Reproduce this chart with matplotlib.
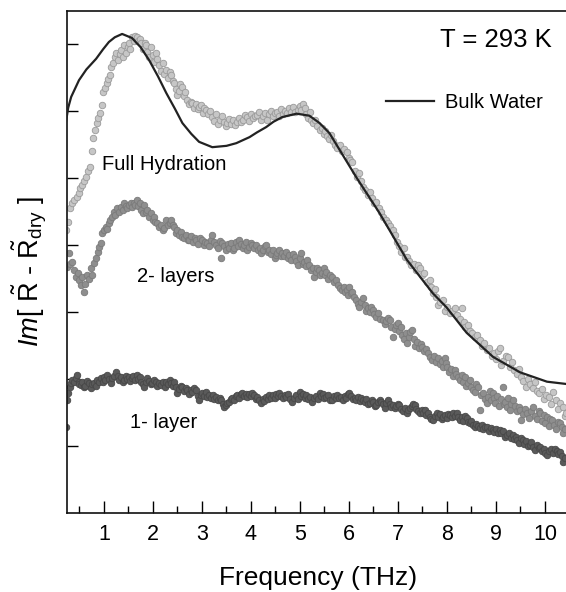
import matplotlib
matplotlib.use("Agg")
import matplotlib.pyplot as plt
import numpy as np

plt.rcParams['font.family'] = ['Liberation Sans', 'DejaVu Sans']
plt.rcParams['mathtext.fontset'] = 'custom'
plt.rcParams['mathtext.rm'] = 'Liberation Sans'
plt.rcParams['mathtext.it'] = 'Liberation Sans:italic'

# ---------------- data ----------------
bulk_freq = [0.22, 0.27, 0.33, 0.49, 0.64, 0.84, 0.98, 1.10, 1.22, 1.37, 1.57, 1.75, 1.92, 2.10,
             2.27, 2.45, 2.60, 2.78, 2.94, 3.21, 3.50, 3.70, 3.97, 4.12, 4.31, 4.46, 4.64, 4.93,
             5.19, 5.40, 5.60, 5.85, 6.15, 6.62, 7.18, 7.71, 7.99, 8.40, 8.94,
             9.49, 10.04, 10.50]
bulk_val = [5.82, 6.05, 6.21, 6.46, 6.62, 6.78, 6.92, 7.03, 7.10, 7.15, 7.09, 6.95, 6.76, 6.52,
            6.27, 6.03, 5.82, 5.66, 5.54, 5.46, 5.48, 5.52, 5.61, 5.68, 5.76, 5.84, 5.91, 5.96,
            5.93, 5.82, 5.67, 5.37, 5.01, 4.48, 3.78, 3.28, 3.07, 2.69, 2.33,
            2.10, 1.96, 1.92]

fh_freq = [0.22, 0.26, 0.31, 0.35, 0.39, 0.44, 0.49, 0.52, 0.55, 0.60, 0.64, 0.68, 0.71, 0.75,
           0.77, 0.81, 0.85, 0.88, 0.92, 0.96, 0.98, 1.02, 1.06, 1.09, 1.12, 1.15, 1.18, 1.22,
           1.25, 1.29, 1.32, 1.35, 1.38, 1.41, 1.45, 1.48, 1.51, 1.54, 1.57, 1.61, 1.64, 1.67,
           1.70, 1.73, 1.76, 1.80, 1.83, 1.86, 1.88, 1.92, 1.96, 2.00, 2.03, 2.06, 2.09, 2.12,
           2.16, 2.20, 2.23, 2.27, 2.30, 2.34, 2.37, 2.40, 2.43, 2.46, 2.49, 2.53, 2.56, 2.59,
           2.63, 2.66, 2.70, 2.73, 2.77, 2.80, 2.84, 2.88, 2.91, 2.94, 2.98, 3.02, 3.05, 3.09,
           3.13, 3.17, 3.21, 3.25, 3.29, 3.33, 3.37, 3.41, 3.45, 3.49, 3.52, 3.56, 3.60, 3.64,
           3.68, 3.72, 3.76, 3.80, 3.84, 3.88, 3.92, 3.96, 4.00, 4.04, 4.08, 4.13, 4.17, 4.21,
           4.25, 4.29, 4.33, 4.37, 4.41, 4.45, 4.50, 4.54, 4.58, 4.62, 4.66, 4.70, 4.74, 4.78,
           4.82, 4.86, 4.90, 4.95, 4.99, 5.03, 5.07, 5.10, 5.13, 5.17, 5.20, 5.23, 5.27, 5.31,
           5.35, 5.40, 5.44, 5.48, 5.52, 5.56, 5.60, 5.64, 5.68, 5.72, 5.76, 5.81, 5.85, 5.90,
           5.95, 5.99, 6.03, 6.07, 6.12, 6.17, 6.20, 6.24, 6.28, 6.33, 6.38, 6.42, 6.47, 6.52,
           6.56, 6.61, 6.66, 6.70, 6.75, 6.79, 6.84, 6.89, 6.94, 6.98, 7.03, 7.07, 7.12, 7.15,
           7.19, 7.23, 7.27, 7.33, 7.36, 7.40, 7.45, 7.50, 7.54, 7.59, 7.65, 7.68, 7.71, 7.75,
           7.78, 7.81, 7.86, 7.91, 7.96, 8.01, 8.06, 8.11, 8.16, 8.21, 8.26, 8.30, 8.34, 8.36,
           8.42, 8.47, 8.52, 8.57, 8.62, 8.67, 8.72, 8.76, 8.81, 8.86, 8.91, 8.95, 9.00, 9.04,
           9.08, 9.10, 9.15, 9.20, 9.24, 9.28, 9.33, 9.37, 9.42, 9.47, 9.51, 9.56, 9.61, 9.65,
           9.70, 9.75, 9.80, 9.84, 9.88, 9.93, 9.98, 10.03, 10.08, 10.12, 10.17, 10.22, 10.27,
           10.31, 10.36, 10.40, 10.43]
fh_val = [4.22, 4.35, 4.55, 4.62, 4.67, 4.72, 4.78, 4.85, 4.90, 4.96, 5.01, 5.10, 5.16, 5.40,
          5.60, 5.72, 5.82, 5.90, 5.97, 6.09, 6.28, 6.35, 6.42, 6.48, 6.54, 6.65, 6.72, 6.80,
          6.87, 6.76, 6.85, 6.91, 6.80, 6.99, 6.87, 6.95, 7.01, 6.92, 7.10, 7.05, 7.12, 7.10,
          7.04, 7.08, 7.01, 6.93, 7.02, 6.99, 6.88, 6.80, 6.95, 6.84, 6.73, 6.87, 6.78, 6.69,
          6.60, 6.72, 6.55, 6.61, 6.50, 6.58, 6.54, 6.45, 6.42, 6.33, 6.24, 6.30, 6.40, 6.36,
          6.22, 6.28, 6.16, 6.10, 6.14, 6.12, 6.05, 6.10, 6.03, 6.06, 6.09, 5.97, 6.04, 6.01,
          5.95, 6.00, 5.91, 5.85, 5.95, 5.80, 5.86, 5.92, 5.84, 5.78, 5.82, 5.88, 5.81, 5.86,
          5.79, 5.84, 5.90, 5.83, 5.87, 5.94, 5.91, 5.85, 5.96, 5.89, 5.93, 5.94, 5.98, 5.86,
          5.92, 5.97, 5.87, 5.95, 6.00, 5.92, 5.97, 5.99, 5.93, 6.03, 5.96, 6.00, 5.97, 6.04,
          5.99, 6.06, 5.98, 6.01, 6.07, 6.02, 6.10, 6.04, 5.95, 5.90, 5.98, 5.87, 5.82, 5.86,
          5.77, 5.72, 5.75, 5.66, 5.70, 5.62, 5.58, 5.64, 5.55, 5.50, 5.45, 5.49, 5.40, 5.43,
          5.39, 5.30, 5.27, 5.24, 5.10, 5.01, 5.08, 4.95, 4.87, 4.82, 4.75, 4.79, 4.70, 4.63,
          4.64, 4.55, 4.49, 4.42, 4.38, 4.33, 4.28, 4.22, 4.15, 4.05, 3.98, 3.90, 3.95, 3.82,
          3.82, 3.76, 3.70, 3.72, 3.62, 3.70, 3.65, 3.55, 3.58, 3.45, 3.48, 3.38, 3.28, 3.34,
          3.22, 3.10, 3.15, 3.18, 3.02, 3.07, 2.98, 3.02, 3.06, 2.95, 2.90, 3.06, 2.85, 2.78,
          2.80, 2.72, 2.69, 2.62, 2.66, 2.58, 2.50, 2.54, 2.43, 2.47, 2.35, 2.39, 2.30, 2.42,
          2.46, 2.21, 2.27, 2.35, 2.33, 2.18, 2.25, 2.13, 2.08, 2.15, 2.03, 1.97, 1.88, 2.00,
          1.92, 1.87, 1.95, 1.82, 1.79, 1.85, 1.70, 1.76, 1.73, 1.62, 1.80, 1.69, 1.55,
          1.64, 1.58, 1.45, 1.49]

tl_freq = [0.24, 0.28, 0.31, 0.35, 0.39, 0.43, 0.46, 0.49, 0.53, 0.55, 0.59, 0.62, 0.65, 0.69,
           0.73, 0.75, 0.80, 0.84, 0.87, 0.90, 0.94, 0.96, 1.00, 1.04, 1.07, 1.10, 1.13, 1.16,
           1.20, 1.23, 1.27, 1.31, 1.35, 1.38, 1.41, 1.44, 1.47, 1.51, 1.55, 1.58, 1.61, 1.64,
           1.67, 1.70, 1.73, 1.76, 1.79, 1.82, 1.85, 1.88, 1.92, 1.96, 1.99, 2.02, 2.05, 2.08,
           2.12, 2.16, 2.20, 2.23, 2.27, 2.30, 2.34, 2.37, 2.40, 2.43, 2.47, 2.50, 2.53, 2.57,
           2.60, 2.64, 2.68, 2.71, 2.74, 2.78, 2.81, 2.85, 2.88, 2.92, 2.96, 3.00, 3.04, 3.07,
           3.11, 3.15, 3.18, 3.21, 3.25, 3.29, 3.33, 3.36, 3.39, 3.41, 3.45, 3.49, 3.53, 3.56,
           3.60, 3.63, 3.66, 3.70, 3.73, 3.76, 3.80, 3.83, 3.86, 3.89, 3.92, 3.96, 4.00, 4.03,
           4.07, 4.11, 4.15, 4.18, 4.21, 4.25, 4.28, 4.31, 4.34, 4.37, 4.41, 4.45, 4.48, 4.51,
           4.54, 4.58, 4.61, 4.64, 4.68, 4.71, 4.75, 4.78, 4.82, 4.86, 4.89, 4.92, 4.95, 4.99,
           5.03, 5.06, 5.09, 5.12, 5.15, 5.19, 5.22, 5.26, 5.29, 5.32, 5.34, 5.38, 5.41, 5.44,
           5.48, 5.51, 5.54, 5.58, 5.62, 5.66, 5.70, 5.74, 5.78, 5.82, 5.85, 5.89, 5.92, 5.95,
           5.98, 6.01, 6.04, 6.07, 6.11, 6.15, 6.18, 6.21, 6.25, 6.28, 6.32, 6.35, 6.38, 6.42,
           6.45, 6.48, 6.52, 6.56, 6.60, 6.64, 6.69, 6.73, 6.76, 6.79, 6.83, 6.86, 6.89, 6.93,
           6.96, 6.99, 7.03, 7.06, 7.09, 7.13, 7.16, 7.18, 7.22, 7.25, 7.28, 7.32, 7.35, 7.38,
           7.42, 7.46, 7.50, 7.54, 7.58, 7.61, 7.65, 7.69, 7.73, 7.77, 7.81, 7.85, 7.89, 7.92,
           7.95, 7.98, 8.01, 8.05, 8.09, 8.13, 8.16, 8.19, 8.22, 8.26, 8.30, 8.33, 8.36, 8.39,
           8.42, 8.46, 8.50, 8.53, 8.57, 8.60, 8.63, 8.67, 8.70, 8.73, 8.77, 8.81, 8.83, 8.87,
           8.90, 8.93, 8.96, 8.98, 9.02, 9.06, 9.10, 9.14, 9.16, 9.18, 9.22, 9.25, 9.28, 9.31,
           9.34, 9.38, 9.42, 9.46, 9.49, 9.52, 9.55, 9.59, 9.63, 9.67, 9.71, 9.75, 9.79, 9.83,
           9.87, 9.90, 9.94, 9.98, 10.01, 10.04, 10.08, 10.11, 10.14, 10.18, 10.22, 10.26, 10.30,
           10.34, 10.37, 10.41]
tl_val = [3.67, 3.88, 3.72, 3.75, 3.63, 3.52, 3.58, 3.48, 3.40, 3.52, 3.30, 3.42, 3.55, 3.50,
          3.66, 3.55, 3.73, 3.81, 3.90, 3.97, 4.03, 4.18, 4.22, 4.27, 4.24, 4.33, 4.38, 4.42,
          4.49, 4.45, 4.55, 4.50, 4.57, 4.52, 4.63, 4.58, 4.55, 4.60, 4.63, 4.56, 4.63, 4.60,
          4.67, 4.58, 4.62, 4.52, 4.48, 4.60, 4.50, 4.52, 4.42, 4.48, 4.38, 4.42, 4.35, 4.33,
          4.27, 4.30, 4.22, 4.25, 4.37, 4.30, 4.33, 4.37, 4.30, 4.27, 4.18, 4.22, 4.15, 4.20,
          4.12, 4.10, 4.15, 4.08, 4.07, 4.13, 4.05, 4.10, 4.07, 4.02, 4.10, 4.07, 4.00, 4.05,
          4.03, 3.98, 4.08, 4.15, 4.05, 4.00, 3.95, 4.06, 3.81, 4.03, 3.98, 3.93, 4.02, 3.95,
          4.03, 3.92, 3.96, 4.05, 3.98, 4.07, 4.02, 3.95, 4.00, 4.05, 3.93, 3.97, 4.03, 4.00,
          3.95, 4.00, 3.92, 3.95, 3.88, 3.93, 3.98, 4.00, 3.90, 3.93, 3.87, 3.92, 3.81, 3.85,
          3.88, 3.92, 3.84, 3.88, 3.83, 3.90, 3.80, 3.85, 3.78, 3.86, 3.82, 3.76, 3.70, 3.80,
          3.88, 3.72, 3.75, 3.68, 3.78, 3.70, 3.62, 3.65, 3.52, 3.60, 3.66, 3.62, 3.55, 3.58,
          3.65, 3.55, 3.60, 3.50, 3.55, 3.52, 3.45, 3.48, 3.40, 3.36, 3.33, 3.38, 3.30, 3.33,
          3.25, 3.37, 3.28, 3.30, 3.22, 3.18, 3.12, 3.07, 3.15, 3.21, 3.10, 3.02, 3.06, 3.00,
          3.08, 3.03, 2.97, 2.93, 2.98, 2.90, 2.88, 2.82, 2.86, 2.91, 2.88, 2.78, 2.63, 2.75,
          2.80, 2.84, 2.72, 2.78, 2.66, 2.60, 2.68, 2.54, 2.62, 2.70, 2.73, 2.60, 2.50, 2.55,
          2.46, 2.52, 2.48, 2.42, 2.45, 2.39, 2.33, 2.28, 2.34, 2.26, 2.31, 2.22, 2.27, 2.18,
          2.31, 2.24, 2.18, 2.10, 2.15, 2.05, 2.13, 2.08, 2.03, 1.98, 2.06, 1.96, 2.03, 1.90,
          1.94, 1.98, 1.88, 1.84, 1.80, 1.92, 1.88, 1.54, 1.76, 1.79, 1.70, 1.64, 1.73, 1.82,
          1.68, 1.79, 1.72, 1.64, 1.75, 1.60, 1.70, 1.88, 1.62, 1.66, 1.58, 1.72, 1.54, 1.63,
          1.69, 1.60, 1.52, 1.58, 1.54, 1.39, 1.48, 1.55, 1.49, 1.42, 1.52, 1.58, 1.45, 1.40,
          1.52, 1.49, 1.38, 1.46, 1.35, 1.43, 1.30, 1.40, 1.39, 1.32, 1.25, 1.36, 1.34,
          1.28, 1.19, 1.25]

ol_freq = [0.22, 0.24, 0.27, 0.30, 0.33, 0.35, 0.39, 0.42, 0.45, 0.48, 0.50, 0.53, 0.56, 0.59,
           0.62, 0.66, 0.69, 0.73, 0.76, 0.80, 0.83, 0.86, 0.90, 0.94, 0.97, 1.00, 1.03, 1.06,
           1.10, 1.14, 1.17, 1.21, 1.25, 1.28, 1.31, 1.35, 1.38, 1.41, 1.44, 1.47, 1.51, 1.54,
           1.57, 1.60, 1.64, 1.67, 1.70, 1.73, 1.76, 1.79, 1.82, 1.85, 1.88, 1.91, 1.95, 1.98,
           2.02, 2.06, 2.09, 2.13, 2.17, 2.20, 2.24, 2.27, 2.31, 2.34, 2.37, 2.40, 2.43, 2.46,
           2.49, 2.53, 2.57, 2.60, 2.63, 2.67, 2.70, 2.73, 2.77, 2.80, 2.84, 2.88, 2.91, 2.94,
           2.97, 3.00, 3.04, 3.08, 3.11, 3.15, 3.19, 3.22, 3.25, 3.29, 3.32, 3.36, 3.39, 3.42,
           3.45, 3.49, 3.52, 3.55, 3.59, 3.62, 3.65, 3.69, 3.72, 3.75, 3.79, 3.82, 3.85, 3.89,
           3.92, 3.96, 4.00, 4.03, 4.07, 4.10, 4.13, 4.17, 4.21, 4.24, 4.27, 4.31, 4.34, 4.37,
           4.41, 4.44, 4.48, 4.51, 4.55, 4.58, 4.62, 4.65, 4.69, 4.72, 4.76, 4.80, 4.84, 4.88,
           4.92, 4.96, 4.99, 5.03, 5.06, 5.10, 5.13, 5.17, 5.21, 5.25, 5.28, 5.32, 5.36, 5.40,
           5.43, 5.47, 5.50, 5.54, 5.58, 5.62, 5.66, 5.69, 5.73, 5.76, 5.80, 5.84, 5.87, 5.91,
           5.94, 5.98, 6.01, 6.05, 6.08, 6.12, 6.15, 6.19, 6.22, 6.25, 6.28, 6.32, 6.35, 6.39,
           6.42, 6.46, 6.49, 6.53, 6.56, 6.60, 6.63, 6.66, 6.70, 6.73, 6.76, 6.79, 6.83, 6.86,
           6.89, 6.93, 6.96, 7.00, 7.03, 7.07, 7.10, 7.14, 7.18, 7.21, 7.25, 7.28, 7.31, 7.34,
           7.37, 7.41, 7.44, 7.48, 7.51, 7.55, 7.58, 7.62, 7.65, 7.68, 7.71, 7.75, 7.79, 7.82,
           7.86, 7.89, 7.91, 7.95, 7.99, 8.02, 8.06, 8.10, 8.13, 8.17, 8.20, 8.23, 8.26, 8.30,
           8.33, 8.37, 8.40, 8.43, 8.47, 8.50, 8.53, 8.57, 8.60, 8.64, 8.67, 8.71, 8.74, 8.78,
           8.81, 8.85, 8.89, 8.93, 8.96, 9.00, 9.04, 9.08, 9.11, 9.15, 9.18, 9.22, 9.26, 9.30,
           9.34, 9.37, 9.40, 9.43, 9.47, 9.51, 9.55, 9.58, 9.62, 9.66, 9.69, 9.72, 9.75, 9.79,
           9.83, 9.87, 9.90, 9.94, 9.98, 10.01, 10.04, 10.08, 10.12, 10.16, 10.20, 10.24, 10.27,
           10.30, 10.34, 10.37, 10.41]
ol_val = [1.28, 1.69, 1.79, 1.88, 1.94, 1.99, 1.95, 2.02, 2.06, 1.96, 1.92, 1.91, 1.95, 1.88,
          1.90, 1.97, 1.94, 1.87, 1.92, 1.94, 1.90, 1.99, 1.95, 2.01, 1.96, 2.03, 1.98, 2.06,
          2.00, 1.94, 2.02, 2.05, 2.10, 2.04, 1.99, 2.03, 1.95, 1.99, 2.05, 2.00, 2.03, 1.97,
          2.01, 2.04, 1.99, 2.06, 2.00, 2.03, 1.96, 1.92, 1.88, 1.95, 2.01, 1.97, 1.92, 1.94,
          1.99, 1.96, 1.90, 1.94, 1.91, 1.95, 1.88, 1.96, 1.92, 1.98, 1.94, 1.90, 1.96, 1.88,
          1.79, 1.85, 1.90, 1.88, 1.82, 1.86, 1.84, 1.78, 1.83, 1.81, 1.86, 1.84, 1.75, 1.69,
          1.76, 1.79, 1.74, 1.80, 1.73, 1.76, 1.72, 1.76, 1.70, 1.73, 1.68, 1.71, 1.69, 1.62,
          1.58, 1.61, 1.64, 1.66, 1.70, 1.72, 1.68, 1.74, 1.76, 1.72, 1.77, 1.79, 1.74, 1.77,
          1.73, 1.78, 1.75, 1.79, 1.76, 1.70, 1.73, 1.68, 1.64, 1.70, 1.67, 1.73, 1.70, 1.76,
          1.72, 1.76, 1.71, 1.77, 1.74, 1.79, 1.75, 1.71, 1.76, 1.73, 1.78, 1.70, 1.66, 1.72,
          1.76, 1.70, 1.81, 1.74, 1.78, 1.72, 1.76, 1.70, 1.73, 1.66, 1.71, 1.75, 1.70, 1.79,
          1.74, 1.77, 1.71, 1.73, 1.76, 1.69, 1.69, 1.74, 1.72, 1.76, 1.71, 1.73, 1.69, 1.75,
          1.72, 1.77, 1.79, 1.74, 1.70, 1.72, 1.69, 1.73, 1.67, 1.71, 1.69, 1.66, 1.70, 1.62,
          1.64, 1.68, 1.65, 1.60, 1.61, 1.65, 1.69, 1.66, 1.62, 1.57, 1.64, 1.69, 1.63, 1.58,
          1.61, 1.56, 1.59, 1.63, 1.61, 1.55, 1.52, 1.57, 1.49, 1.54, 1.57, 1.60, 1.63, 1.61,
          1.55, 1.52, 1.49, 1.54, 1.50, 1.53, 1.46, 1.50, 1.44, 1.41, 1.39, 1.45, 1.49, 1.44,
          1.48, 1.41, 1.43, 1.47, 1.42, 1.48, 1.46, 1.44, 1.50, 1.45, 1.49, 1.44, 1.39, 1.43,
          1.38, 1.45, 1.42, 1.36, 1.34, 1.38, 1.31, 1.29, 1.33, 1.30, 1.27, 1.31, 1.25, 1.29,
          1.28, 1.23, 1.27, 1.24, 1.21, 1.26, 1.20, 1.24, 1.19, 1.22, 1.14, 1.16, 1.20, 1.12,
          1.16, 1.10, 1.14, 1.09, 1.05, 1.12, 1.09, 1.03, 1.07, 1.00, 1.01, 1.06, 0.99, 0.94,
          1.02, 0.97, 0.99, 0.93, 0.96, 0.90, 0.87, 0.93, 0.96, 0.90, 0.95, 0.93, 0.88,
          0.91, 0.85, 0.76, 0.82]

x_ticks = [1, 2, 3, 4, 5, 6, 7, 8, 9, 10]
x_minor = [0.5, 1.5, 2.5, 3.5, 4.5, 5.5, 6.5, 7.5, 8.5, 9.5, 10.5]
y_ticks = [1, 2, 3, 4, 5, 6, 7]

# ---------------- figure ----------------
W, H = 566, 592
fig = plt.figure(figsize=(W / 100, H / 100), dpi=100)
ax_left, ax_right, ax_top, ax_bot = 67, 569.5, 10.5, 513
ax = fig.add_axes([ax_left / W, 1 - ax_bot / H, (ax_right - ax_left) / W, (ax_bot - ax_top) / H])

ms = 22
ax.scatter(fh_freq, fh_val, s=ms, facecolor='#c6c6c6', edgecolor='#9a9a9a', linewidth=0.6, zorder=2)
ax.scatter(tl_freq, tl_val, s=ms, facecolor='#8e8e8e', edgecolor='#7a7a7a', linewidth=0.6, zorder=2)
ax.scatter(ol_freq, ol_val, s=ms, facecolor='#5a5a5a', edgecolor='#484848', linewidth=0.6, zorder=2)
ax.plot(bulk_freq, bulk_val, color='#222222', lw=1.6, zorder=3, label='Bulk Water')

ax.set_xlim(0.245, 10.5)
ax.set_ylim(0, 7.5)
ax.set_xticks(x_ticks)
ax.set_xticks(x_minor, minor=True)
ax.set_yticks(y_ticks)
ax.set_yticklabels([])
ax.tick_params(axis='x', which='major', direction='in', length=8.5, width=1.0,
               labelsize=15.5, pad=8, top=False)
ax.tick_params(axis='x', which='minor', direction='in', length=5, width=1.0, top=False)
ax.tick_params(axis='y', which='major', direction='in', length=8, width=1.0, right=False)
for s in ['left', 'bottom', 'top']:
    ax.spines[s].set_linewidth(1.2)
    ax.spines[s].set_color('#111111')
ax.spines['right'].set_visible(False)

ax.legend(loc='center left', bbox_to_anchor=(6.76, 6.13), bbox_transform=ax.transData,
          frameon=False, fontsize=14.5, handlelength=2.35, handletextpad=0.55,
          borderpad=0, borderaxespad=0)

ax.text(7.86, 6.96, 'T = 293 K', fontsize=18.5, ha='left', va='baseline')
ax.text(0.96, 5.12, 'Full Hydration', fontsize=14.5, ha='left', va='baseline')
ax.text(1.67, 3.45, '2- layers', fontsize=14.5, ha='left', va='baseline')
ax.text(1.53, 1.27, '1- layer', fontsize=14.5, ha='left', va='baseline')

fig.text(318 / W, 1 - 578 / H, 'Frequency (THz)', fontsize=19, ha='center', va='center')
fig.text(30 / W, 1 - 272 / H,
         r'$\mathit{Im}[\ \tilde{\mathrm{R}}\ \text{-}\ \tilde{\mathrm{R}}_{\mathrm{dry}}\ ]$',
         fontsize=19.5, rotation=90, ha='center', va='center')

fig.savefig('out.png', dpi=100)
